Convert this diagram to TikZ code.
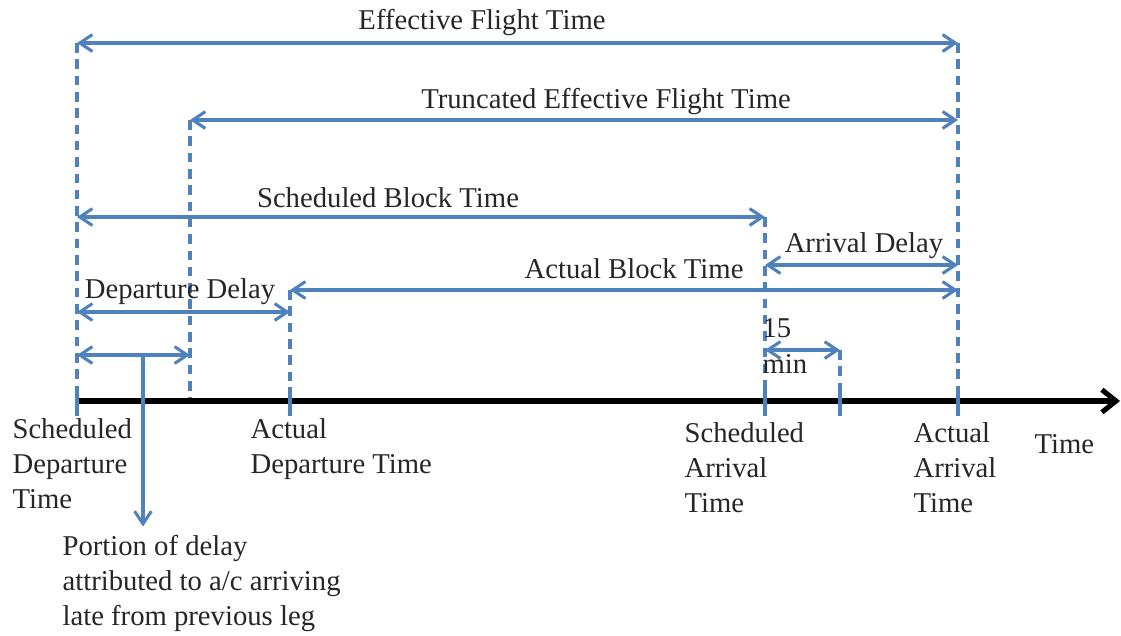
\documentclass[tikz,border=0pt]{standalone}
\usepackage{fontspec}
\setmainfont{Liberation Serif}
\usepackage{xcolor}
\usetikzlibrary{arrows.meta,calc}

\definecolor{flightblue}{RGB}{79,129,189}

\begin{document}
\begin{tikzpicture}[x=0.0125cm, y=-0.0125cm,
    lbl/.style={font=\fontsize{10.2}{12.4}\selectfont, inner sep=0pt, text=black!85},
    span/.style={draw=flightblue, line width=1.1pt, {Straight Barb[length=4.5pt,width=6pt]}-{Straight Barb[length=4.5pt,width=6pt]}},
    pointer/.style={draw=flightblue, line width=1.1pt, -{Straight Barb[length=4.5pt,width=6pt]}},
    guide/.style={draw=flightblue, line width=1.1pt, dash pattern=on 3.4pt off 2.4pt},
    tickmark/.style={draw=flightblue, line width=1.1pt},
    timeaxis/.style={draw=black, line width=1.8pt, -{Straight Barb[length=5pt,width=8pt]}}]

    \useasboundingbox (0,0) rectangle (1121,635);

    % time points on the axis
    \coordinate (sd) at (77,401);
    \coordinate (td) at (190,401);
    \coordinate (ad) at (290,401);
    \coordinate (sa) at (765,401);
    \coordinate (sq) at (840,401);
    \coordinate (aa) at (958,401);
    \coordinate (tend) at (1120,401);
    \coordinate (pt) at (143,401);

    % heights of the spans
    \coordinate (lEff) at (0,43);
    \coordinate (lTrunc) at (0,120);
    \coordinate (lSched) at (0,217);
    \coordinate (lArr) at (0,265);
    \coordinate (lAct) at (0,290);
    \coordinate (lDep) at (0,312);
    \coordinate (lQuart) at (0,350);
    \coordinate (lPart) at (0,355);

    % dashed guides
    \draw[guide] (sd |- lEff) -- (sd);
    \draw[guide] (td |- lTrunc) -- (td);
    \draw[guide] (ad |- lAct) -- (ad);
    \draw[guide] (sa |- lSched) -- (sa);
    \draw[guide] (sq |- lQuart) -- (sq);
    \draw[guide] (aa |- lEff) -- (aa);

    % time axis
    \draw[timeaxis] (sd) -- (tend);
    \foreach \t in {sd,ad,sa,sq,aa}
        \draw[tickmark] ($(\t)+(0,-14)$) -- ($(\t)+(0,15)$);

    % spans
    \draw[span] (sd |- lEff) -- (aa |- lEff);
    \draw[span] (td |- lTrunc) -- (aa |- lTrunc);
    \draw[span] (sd |- lSched) -- (sa |- lSched);
    \draw[span] (sa |- lArr) -- (aa |- lArr);
    \draw[span] (ad |- lAct) -- (aa |- lAct);
    \draw[span] (sd |- lDep) -- (ad |- lDep);
    \draw[span] (sd |- lPart) -- (td |- lPart);
    \draw[span] (sa |- lQuart) -- (sq |- lQuart);

    % span labels
    \node[lbl, anchor=base] (effL) at (482,29) {Effective Flight Time};
    \node[lbl, anchor=base] (truncL) at (606,108) {Truncated Effective Flight Time};
    \node[lbl, anchor=base] (schedL) at (388,207) {Scheduled Block Time};
    \node[lbl, anchor=base] (arrL) at (864,252) {Arrival Delay};
    \node[lbl, anchor=base] (actL) at (634,278) {Actual Block Time};
    \node[lbl, anchor=base] (depL) at (180,298) {Departure Delay};
    \node[lbl, anchor=base west] (quartL) at (762,337) {15};
    \node[lbl, anchor=base west] (minL) at (762,373) {min};

    % axis labels
    \node[lbl, anchor=north west, align=left] (sdL) at (12,418) {Scheduled\\Departure\\Time};
    \node[lbl, anchor=north west, align=left] (adL) at (250,418) {Actual\\Departure Time};
    \node[lbl, anchor=north west, align=left] (saL) at (684,422) {Scheduled\\Arrival\\Time};
    \node[lbl, anchor=north west, align=left] (aaL) at (913,422) {Actual\\Arrival\\Time};
    \node[lbl, anchor=base west] (timeL) at (1034,453) {Time};

    % portion of the delay
    \node[lbl, anchor=north west, align=left] (portion) at (62,535) {Portion of delay\\attributed to a/c arriving\\late from previous leg};
    \draw[pointer, shorten >=3pt] (pt |- lPart) -- (pt |- portion.north);
\end{tikzpicture}
\end{document}
